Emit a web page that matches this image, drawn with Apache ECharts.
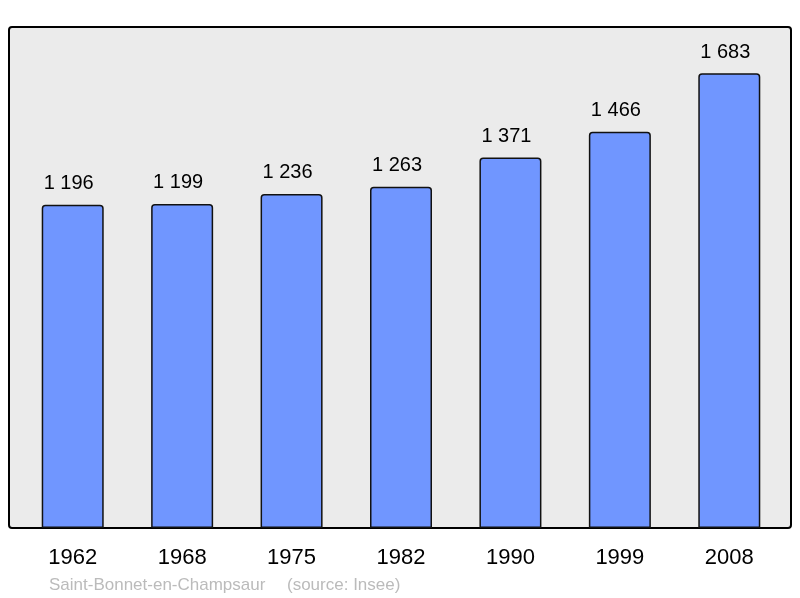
<!DOCTYPE html>
<html>
<head>
<meta charset="utf-8">
<script src="https://cdn.jsdelivr.net/npm/echarts@6/dist/echarts.min.js"></script>
<style>
  html, body { margin: 0; padding: 0; background: #fff; }
  #chart { width: 800px; height: 598px; }
</style>
</head>
<body>
<div id="chart"></div>
<script>
// données population
const years = ["1962", "1968", "1975", "1982", "1990", "1999", "2008"];
const population = [1196, 1199, 1236, 1263, 1371, 1466, 1683];
const placeName = "Saint-Bonnet-en-Champsaur";
const sourceText = "(source: Insee)";

const myChart = echarts.init(document.getElementById("chart"));

// "1 196" style thousands
const fmt = (v) => String(v).replace(/\B(?=(\d{3})+(?!\d))/g, " ");

const options = {
  animation: false,
  textStyle: { fontFamily: "Liberation Sans, Arial, sans-serif" },
  grid: { left: 18, right: 16, top: 28, bottom: 70 },
  graphic: [
    {
      type: "rect",
      z: 0,
      shape: { x: 9, y: 27, width: 782, height: 501, r: 3 },
      style: { fill: "#ebebeb", stroke: "#000", lineWidth: 2 },
    },
    {
      type: "text",
      z: 5,
      style: {
        x: 49, y: 585, text: placeName, fill: "#bbbbbb",
        font: "17px 'Liberation Sans', Arial, sans-serif", verticalAlign: "middle",
      },
    },
    {
      type: "text",
      z: 5,
      style: {
        x: 287, y: 585, text: sourceText, fill: "#bbbbbb",
        font: "17px 'Liberation Sans', Arial, sans-serif", verticalAlign: "middle",
      },
    },
  ],
  xAxis: {
    type: "category",
    data: years,
    axisLine: { show: false },
    axisTick: { show: false },
    axisLabel: { color: "#000", fontSize: 22, margin: 19 },
  },
  yAxis: {
    type: "value",
    min: 0,
    max: 1850,
    show: false,
  },
  series: [
    {
      type: "bar",
      data: population,
      barWidth: 62,
      z: 2,
      itemStyle: {
        color: "#7096ff",
        borderColor: "#111",
        borderWidth: 1.5,
        borderRadius: [3, 3, 0, 0],
      },
      label: {
        show: true,
        position: "top",
        distance: 10,
        offset: [-4, -1],
        color: "#000",
        fontSize: 20,
        formatter: (p) => fmt(p.value),
      },
    },
  ],
};

myChart.setOption(options);
</script>
</body>
</html>
